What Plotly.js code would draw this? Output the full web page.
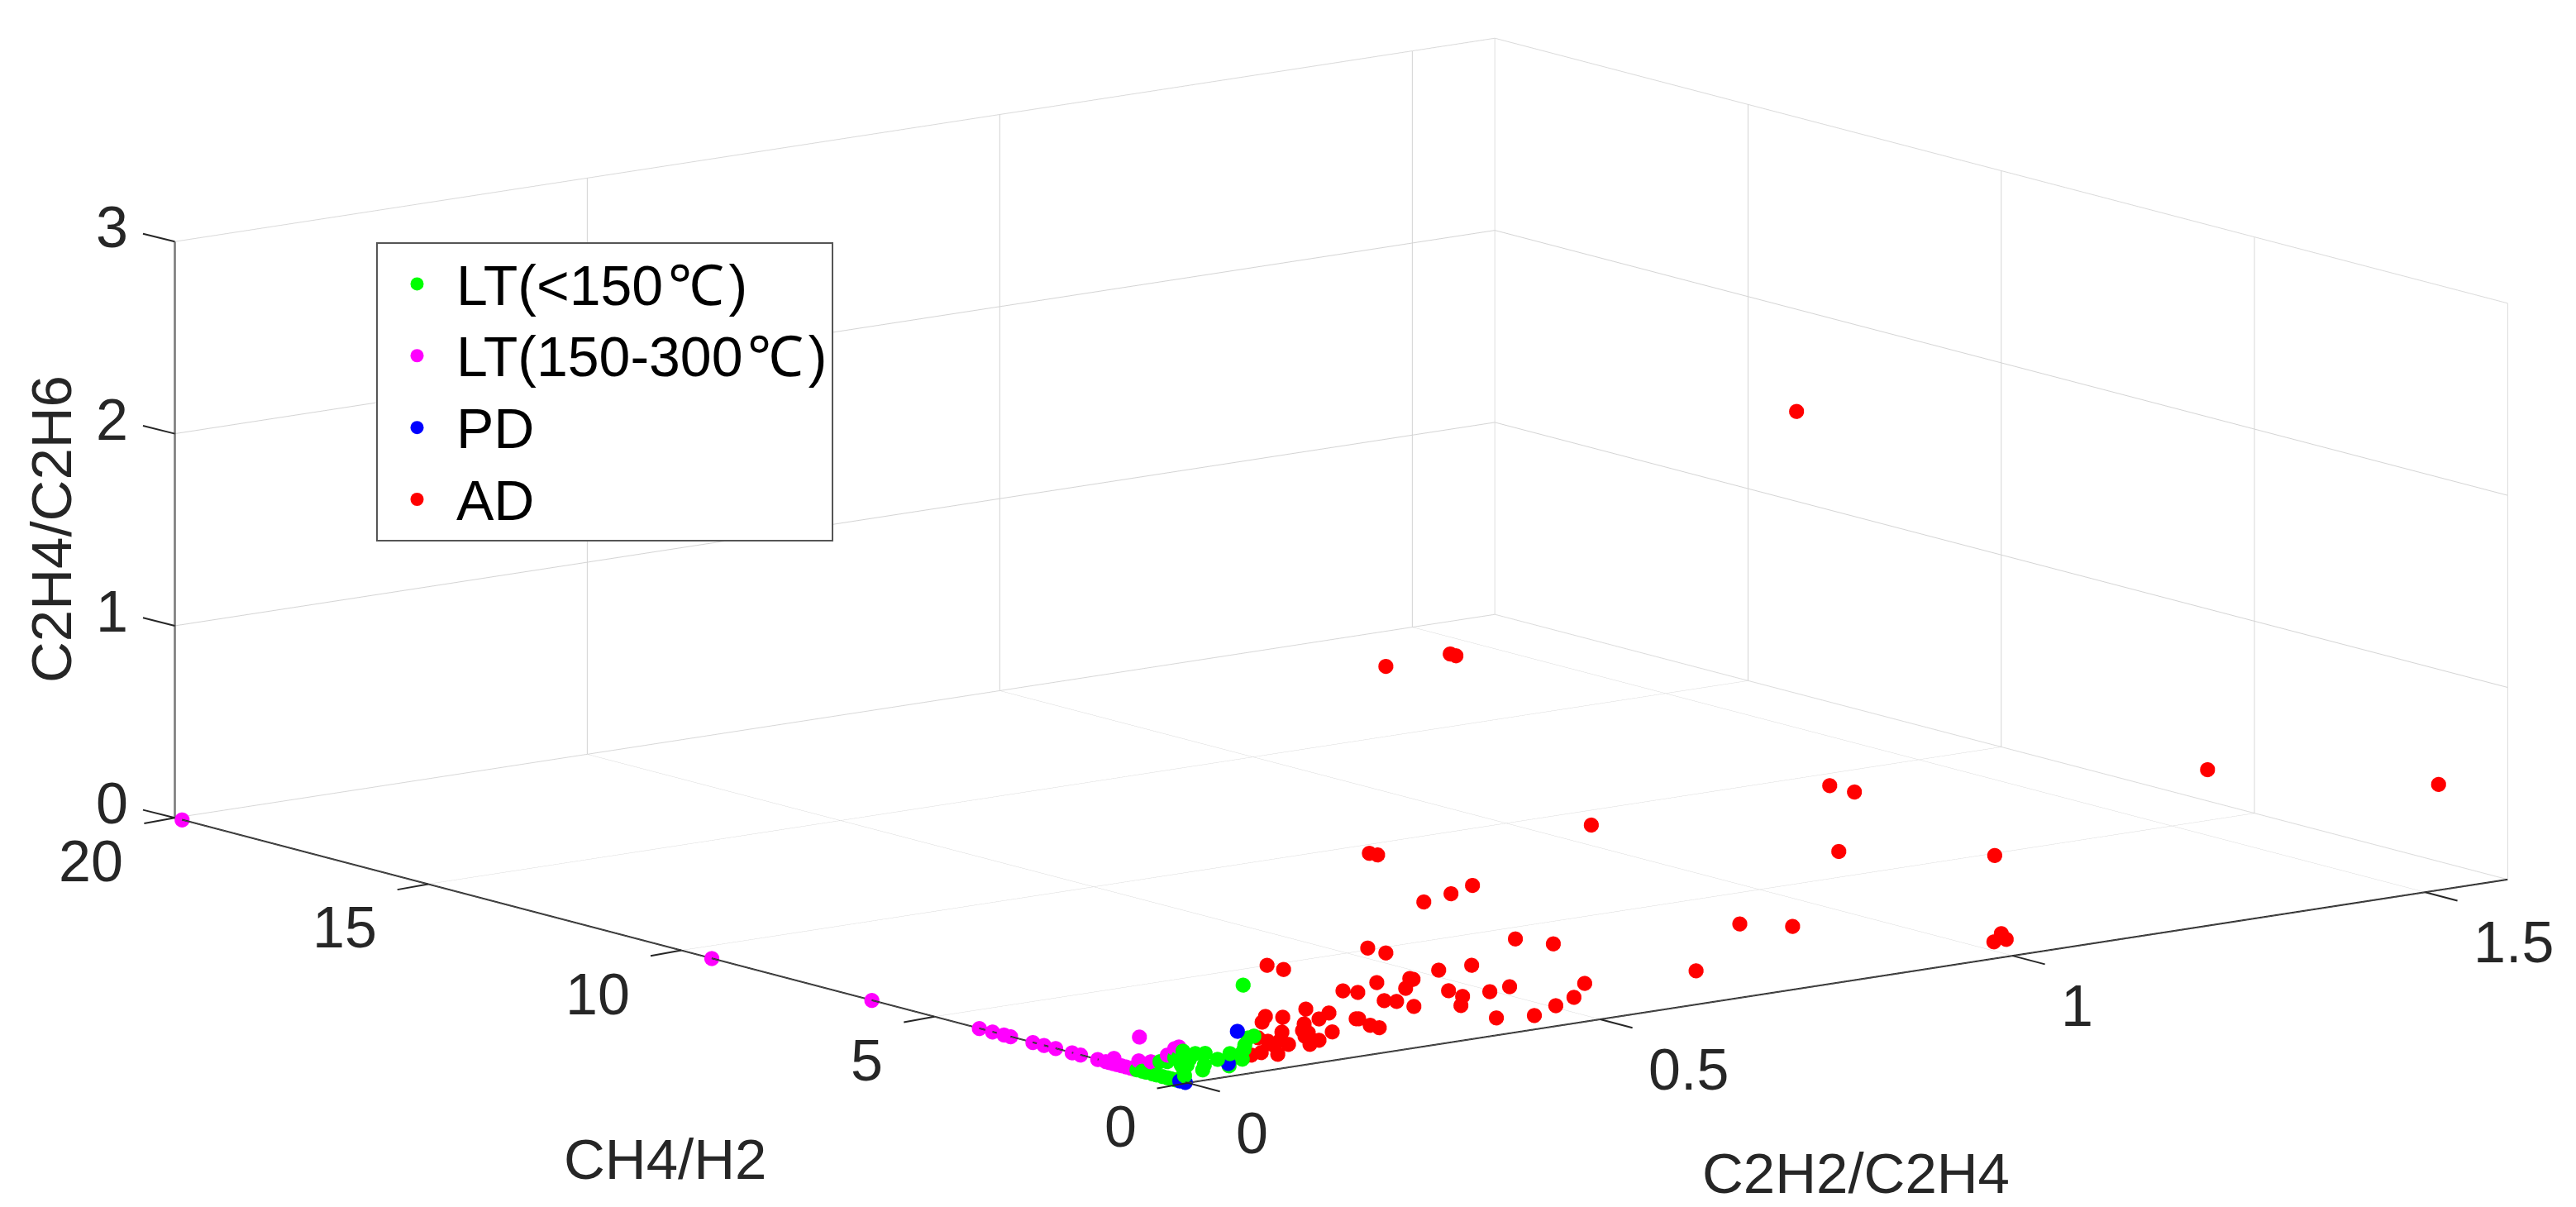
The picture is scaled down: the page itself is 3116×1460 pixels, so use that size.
<!DOCTYPE html>
<html><head><meta charset="utf-8">
<script src="https://cdn.plot.ly/plotly-3.0.1.min.js"></script>
<style>html,body{margin:0;padding:0;background:#fff}#plot{width:3116px;height:1460px}</style>
</head><body><div id="plot"></div>
<script>
const xLabel='C2H2/C2H4', yLabel='CH4/H2', zLabel='C2H4/C2H6';
const wrap=s=>'<span style="font-size:68px">'+s+'</span>';
const seriesNames=[wrap('LT(&lt;150\u200A℃\u200A)'),wrap('LT(150-300\u200A℃\u200A)'),wrap('PD'),wrap('AD')];
const seriesColors=['#00ff00','#ff00ff','#0000ff','#ff0000'];
const xTicks=[0,0.5,1,1.5], yTicks=[0,5,10,15,20], zTicks=[0,1,2,3];

const greenX=[.067,.080,.073,.068,.066,.051,.050,.036,.020,.018,.021,.009,0,0,0,0,0,0,0,0,0,0,0,0,0,0,0,0,0,0,.002,0,.065,.069];
const greenY=[0,0,0,0,0,0,0,0,0,0,0,0,.097,.016,.065,.178,.405,.551,1.005,.827,.616,.405,.243,.13,.9,.7,.5,.33,.16,.259,0,.081,0,0];
const greenZ=[.466,.192,.187,.131,.081,.120,.057,.100,.081,.057,.141,.148,.160,.093,.034,.125,.084,.074,0,0,0,0,0,.085,0,0,0,0,0,.115,.123,.063,.111,.152];

const magentaY=[19.86,9.40,6.24,4.117,3.857,3.63,3.50,3.06,2.84,2.61,2.285,2.12,1.78,1.62,1.459,1.31,1.475,1.13,.956,.97,.729,.405,.259,.178,1.55,1.4,1.22,1.05];
const magentaX=magentaY.map(()=>0);
const magentaZ=[0,0,0,0,0,0,0,0,0,0,0,0,0,0,.028,0,0,0,.174,.049,.061,.118,.162,.176,0,0,0,0];

const blueX=[.06,.049,0,0];
const blueY=[0,0,.05,.16];
const blueZ=[.23,.07,0,0];

const redX=[1.236,1.516,.778,.808,.789,.978,.669,.733,.986,.992,.977,.616,.922,.220,.230,.489,.286,.319,.345,.218,.240,.397,.443,.304,.344,.269,.273,.229,.264,.188,.206,.316,.333,.331,.366,.390,.481,.468,.446,.420,.374,.238,.253,.274,.171,.159,.204,.207,.221,.232,.175,.096,.116,.143,.094,.090,.115,.141,.139,.146,.142,.159,.148,.114,.122,.112,.097,.104,.109,.089,.077,.085,.069,.240,.318,.325];
const redY=[0,0,0,0,0,0,0,0,0,0,0,0,3,0,0,0,0,0,0,0,0,0,0,0,0,0,0,0,0,0,0,0,0,0,0,0,0,0,0,0,0,0,0,0,0,0,0,0,0,0,0,0,0,0,0,0,0,0,0,0,0,0,0,0,0,0,0,0,0,0,0,0,0,0,0,0];
const redZ=[.814,.552,1.034,.981,.684,.538,.386,.331,.126,.092,.089,.177,2.68,1.051,1.036,1.020,.754,.775,.801,.559,.519,.488,.432,.387,.386,.367,.360,.372,.319,.356,.336,.272,.231,.185,.234,.244,.201,.137,.108,.074,.092,.272,.258,.218,.252,.229,.200,.198,.155,.135,.151,.550,.515,.291,.285,.258,.267,.215,.182,.165,.150,.118,.104,.190,.121,.149,.154,.129,.078,.100,.095,.180,.092,2.011,2.024,2.01];

const xMax=1.6,yMax=20,zMax=3;
const boxX=[0,xMax,xMax,xMax,xMax,xMax,xMax,0];
const boxY=[yMax,yMax,0,0,yMax,yMax,yMax,yMax];
const boxZ=[0,0,0,zMax,zMax,0,zMax,zMax];
const axisX=[0,0,0,xMax];
const axisY=[yMax,yMax,0,0];
const axisZ=[zMax,0,0,0];

function pts(i,x,y,z){return {type:'scatter3d',mode:'markers',name:seriesNames[i],x:x,y:y,z:z,showlegend:false,
  marker:{size:10.6,color:seriesColors[i],opacity:1,line:{width:0}},hoverinfo:'skip'};}
function key(i){return {type:'scatter3d',mode:'markers',name:seriesNames[i],x:[null],y:[null],z:[null],
  marker:{size:16,color:seriesColors[i],opacity:1,line:{width:0}},hoverinfo:'skip'};}
const data=[
 {type:'scatter3d',mode:'lines',x:boxX,y:boxY,z:boxZ,showlegend:false,hoverinfo:'skip',line:{color:'#e2e2e2',width:2}},
 {type:'scatter3d',mode:'lines',x:axisX,y:axisY,z:axisZ,showlegend:false,hoverinfo:'skip',line:{color:'#262626',width:4}},
 pts(3,redX,redY,redZ),pts(1,magentaX,magentaY,magentaZ),pts(0,greenX,greenY,greenZ),pts(2,blueX,blueY,blueZ),
 key(0),key(1),key(2),key(3)];
const tf={family:'"Liberation Sans",Arial,sans-serif',size:69,color:'#262626'};
const nf={family:'"Liberation Sans",Arial,sans-serif',size:70,color:'#262626'};
function ax(range,ticks){return {range:range,autorange:false,tickmode:'array',tickvals:ticks,ticktext:ticks.map(String),
  showgrid:true,gridcolor:'#d4d4d4',gridwidth:2,zeroline:false,showline:false,
  ticks:'',showticklabels:false,showbackground:false,showspikes:false,title:{text:''}};}
const dist=2;
const A=2.757;
const c={x:-0.0787,y:0.0424,z:-0.0697};
const sceneAnn=[];
const tick=(x,y,z,ax,ay)=>({x,y,z,text:'',showarrow:true,arrowhead:0,arrowwidth:2,arrowcolor:'#262626',ax,ay,standoff:0});
xTicks.forEach(v=>{sceneAnn.push({x:v,y:0,z:0,text:String(v),showarrow:false,font:nf,xanchor:'left',xshift:56,yshift:-61});sceneAnn.push(tick(v,0,0,40.5,10.7));});
yTicks.forEach(v=>{sceneAnn.push({x:0,y:v,z:0,text:String(v),showarrow:false,font:nf,xanchor:'right',xshift:-60,yshift:-53});sceneAnn.push(tick(0,v,0,-38.6,7));});
zTicks.forEach(v=>{sceneAnn.push({x:0,y:yMax,z:v,text:String(v),showarrow:false,font:nf,xanchor:'right',xshift:-54,yshift:17});sceneAnn.push(tick(0,yMax,v,-40,-10));});
const layout={width:3116,height:1460,margin:{l:0,r:0,t:0,b:0},paper_bgcolor:'#fff',
 showlegend:true,
 legend:{x:455/3116,y:1-293/1460,xanchor:'left',yanchor:'top',bgcolor:'#fff',bordercolor:'#555',borderwidth:2,itemwidth:85,
   font:{family:'"Liberation Sans",sans-serif',size:64.5,color:'#000'}},
 scene:{domain:{x:[0,1],y:[0,1]},aspectmode:'manual',aspectratio:{x:A,y:A,z:0.3535*A},
   camera:{projection:{type:'orthographic'},up:{x:0,y:0,z:1},center:c,
     eye:{x:c.x-0.6088*0.9796*dist,y:c.y-0.7934*0.9796*dist,z:c.z+0.2008*dist}},
   xaxis:ax([0,xMax],xTicks),yaxis:ax([0,yMax],yTicks),zaxis:ax([0,zMax],zTicks),annotations:sceneAnn},
 annotations:[
  {xref:'paper',yref:'paper',xanchor:'center',yanchor:'middle',x:2245/3116,y:1-1419/1460,text:xLabel,showarrow:false,font:tf},
  {xref:'paper',yref:'paper',xanchor:'center',yanchor:'middle',x:804/3116,y:1-1402/1460,text:yLabel,showarrow:false,font:tf},
  {xref:'paper',yref:'paper',xanchor:'center',yanchor:'middle',x:62/3116,y:1-640/1460,text:zLabel,textangle:-90,showarrow:false,font:tf}]
};
Plotly.newPlot('plot',data,layout,{displayModeBar:false});
</script></body></html>
